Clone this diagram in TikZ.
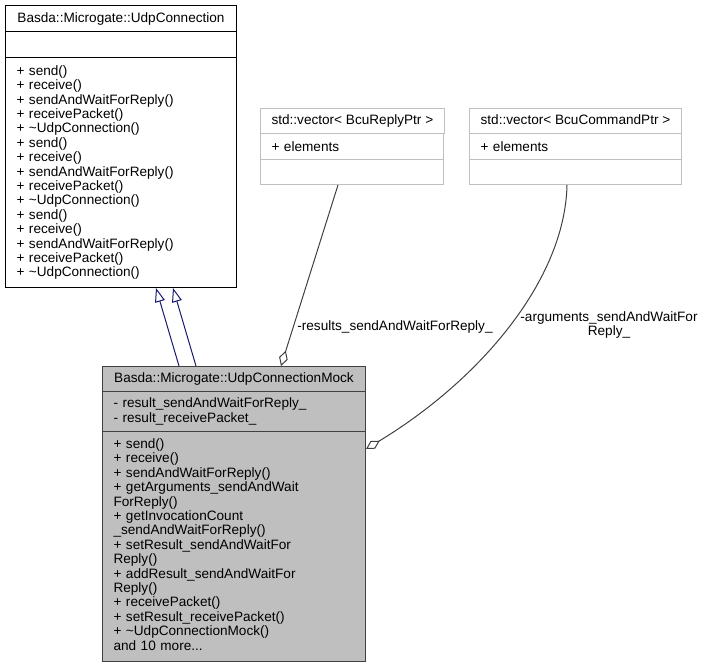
\documentclass[tikz,border=0pt]{standalone}
\usepackage{fontspec}
\setmainfont{Liberation Sans}
\usetikzlibrary{arrows.meta}
\definecolor{edgegray}{HTML}{404040}
\definecolor{mockgray}{HTML}{BFBFBF}
\definecolor{inhblue}{HTML}{191970}
\begin{document}
\begin{tikzpicture}[x=1pt,y=-1pt,font=\fontsize{13.6}{14.4}\selectfont,
  classtitle/.style={draw,line width=1pt,anchor=north west,inner xsep=11pt,inner ysep=0pt,text height=9.5pt,text depth=1.5pt},
  classbody/.style={draw,line width=1pt,anchor=north west,inner xsep=11pt,inner ysep=0pt,align=left},
  basebox/.style={draw=black,fill=white},
  mockbox/.style={draw=edgegray,fill=mockgray},
  vecbox/.style={draw=mockgray,fill=white},
  inherit/.style={draw=inhblue,line width=1pt,-{Triangle[open,length=14pt,width=10pt]}},
  agg/.style={draw=edgegray,line width=1pt,{Diamond[open,length=16pt,width=9pt]}-}]
\useasboundingbox (0,0) rectangle (702,668);

\node[classtitle,basebox,minimum width=231pt,minimum height=26pt] (baseT) at (5,5) {Basda::Microgate::UdpConnection};
\node[classbody,basebox,minimum width=231pt,minimum height=26pt,text width=209pt] (baseA) at (5,31) {};
\node[classbody,basebox,minimum width=231pt,minimum height=230pt,text width=209pt] (baseM) at (5,57) {+ send()\\+ receive()\\+ sendAndWaitForReply()\\+ receivePacket()\\+ \textasciitilde UdpConnection()\\+ send()\\+ receive()\\+ sendAndWaitForReply()\\+ receivePacket()\\+ \textasciitilde UdpConnection()\\+ send()\\+ receive()\\+ sendAndWaitForReply()\\+ receivePacket()\\+ \textasciitilde UdpConnection()};

\node[classtitle,mockbox,minimum width=263pt,minimum height=25pt] (mockT) at (102,366) {Basda::Microgate::UdpConnectionMock};
\node[classbody,mockbox,minimum width=263pt,minimum height=40pt,text width=241pt] (mockA) at (102,391) {- result\_sendAndWaitForReply\_\\- result\_receivePacket\_};
\node[classbody,mockbox,minimum width=263pt,minimum height=230pt,text width=241pt] (mockM) at (102,431) {+ send()\\+ receive()\\+ sendAndWaitForReply()\\+ getArguments\_sendAndWait\\ForReply()\\+ getInvocationCount\\\_sendAndWaitForReply()\\+ setResult\_sendAndWaitFor\\Reply()\\+ addResult\_sendAndWaitFor\\Reply()\\+ receivePacket()\\+ setResult\_receivePacket()\\+ \textasciitilde UdpConnectionMock()\\and 10 more...\strut};

\node[classtitle,vecbox,minimum width=183pt,minimum height=25pt] (replyT) at (260,108) {std::vector< BcuReplyPtr >};
\node[classbody,vecbox,minimum width=183pt,minimum height=26pt,text width=161pt] (replyA) at (260,133) {+ elements};
\node[classbody,vecbox,minimum width=183pt,minimum height=25pt,text width=161pt] (replyM) at (260,159) {};

\node[classtitle,vecbox,minimum width=212pt,minimum height=25pt] (cmdT) at (469,108) {std::vector< BcuCommandPtr >};
\node[classbody,vecbox,minimum width=212pt,minimum height=26pt,text width=190pt] (cmdA) at (469,133) {+ elements};
\node[classbody,vecbox,minimum width=212pt,minimum height=25pt,text width=190pt] (cmdM) at (469,159) {};

\draw[inherit] ([xshift=77pt]mockT.north west) -- ([xshift=151pt]baseM.south west);
\draw[inherit] ([xshift=94pt]mockT.north west) -- ([xshift=168pt]baseM.south west);

\draw[agg] ([xshift=179pt]mockT.north west) -- ([xshift=78pt]replyM.south west);
\draw[agg] ([yshift=-18pt]mockM.north east) .. controls (480,380) and (565,280) .. ([xshift=98pt]cmdM.south west);

\node (resultsLbl) at (395,327) {-results\_sendAndWaitForReply\_};
\node[align=center] (argsLbl) at (609,325) {-arguments\_sendAndWaitFor\\Reply\_};
\end{tikzpicture}
\end{document}
